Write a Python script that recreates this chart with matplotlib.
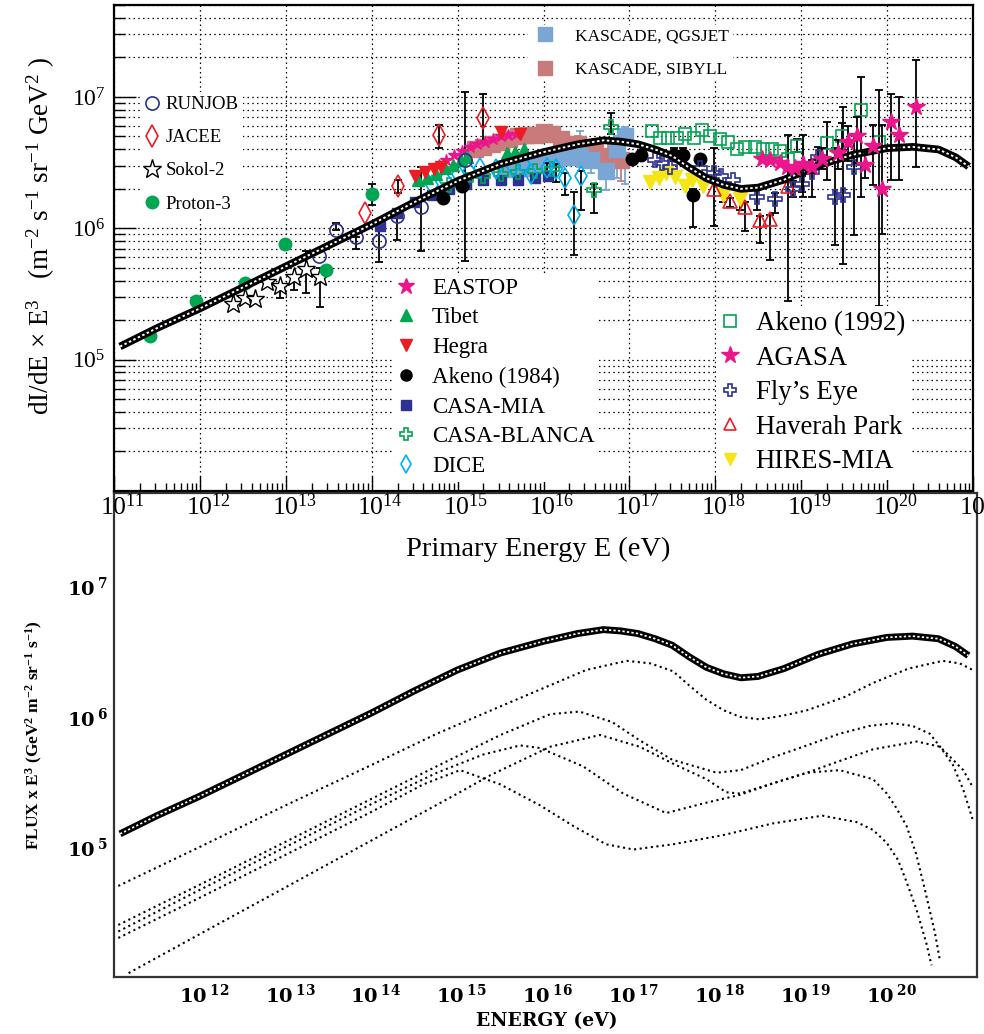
import numpy as np
import matplotlib
matplotlib.use("Agg")
import matplotlib.pyplot as plt
import matplotlib.transforms as mtransforms
from matplotlib.lines import Line2D
from matplotlib.ticker import FixedLocator, LogLocator, NullFormatter, NullLocator

plt.rcParams['font.family'] = ['Liberation Serif', 'DejaVu Serif']
plt.rcParams['mathtext.fontset'] = 'custom'
plt.rcParams['mathtext.rm'] = 'Liberation Serif'
plt.rcParams['mathtext.it'] = 'Liberation Serif:italic'
plt.rcParams['mathtext.bf'] = 'Liberation Serif:bold'
plt.rcParams['mathtext.default'] = 'regular'

# all values are log10(E / eV) and log10(dI/dE * E^3)

# model: total flux and its five components
total_loge = [11.07, 11.5, 12.0, 12.5, 13.0, 13.5, 14.0, 14.5, 15.0, 15.5, 16.0, 16.4, 16.7,
              16.9, 17.1, 17.3, 17.5, 17.7, 17.9, 18.1, 18.3, 18.5, 18.8, 19.2, 19.6, 20.0,
              20.3, 20.6, 20.8, 20.95]
total_logf = [5.10, 5.24, 5.39, 5.55, 5.71, 5.87, 6.03, 6.20, 6.36, 6.49, 6.58, 6.64, 6.67,
              6.66, 6.64, 6.60, 6.55, 6.46, 6.38, 6.33, 6.30, 6.31, 6.37, 6.48, 6.56, 6.61,
              6.62, 6.60, 6.54, 6.47]

comp1_loge = [11.05, 12.0, 13.0, 14.0, 14.76, 15.5, 16.0, 16.5, 16.97, 17.25, 17.51, 17.7, 17.9,
              18.1, 18.29, 18.52, 18.8, 19.07, 19.5, 19.84, 20.25, 20.65, 20.85, 21.0]
comp1_logf = [4.70, 5.00, 5.32, 5.63, 5.87, 6.08, 6.22, 6.36, 6.43, 6.41, 6.35, 6.24, 6.13,
              6.05, 6.00, 5.98, 6.01, 6.05, 6.15, 6.26, 6.37, 6.43, 6.41, 6.36]

comp2_loge = [11.05, 12.0, 13.0, 14.0, 14.76, 15.5, 16.08, 16.42, 16.8, 17.12, 17.5, 18.02, 18.3,
              18.68, 19.07, 19.45, 19.8, 20.07, 20.3, 20.5, 20.62, 20.77, 20.89, 21.0]
comp2_logf = [4.40, 4.71, 5.04, 5.37, 5.62, 5.86, 6.02, 6.04, 5.96, 5.82, 5.67, 5.57, 5.59,
              5.69, 5.78, 5.87, 5.93, 5.95, 5.93, 5.87, 5.77, 5.63, 5.44, 5.21]

comp3_loge = [11.05, 12.0, 13.0, 14.0, 14.76, 15.3, 15.73, 15.96, 16.46, 16.93, 17.43, 17.9,
              18.29, 18.68, 19.07, 19.45, 19.84, 20.0, 20.11, 20.23, 20.34, 20.44, 20.56, 20.62]
comp3_logf = [4.35, 4.67, 5.00, 5.33, 5.57, 5.71, 5.78, 5.76, 5.62, 5.41, 5.26, 5.34,
              5.40, 5.49, 5.57, 5.59, 5.52, 5.41, 5.30, 5.16, 4.95, 4.68, 4.34, 4.12]

comp4_loge = [11.17, 12.0, 13.0, 14.0, 15.0, 15.38, 16.08, 16.66, 17.12, 17.51, 17.9, 18.13,
              18.29, 18.68, 19.07, 19.45, 19.84, 20.35, 20.62, 20.77, 20.89, 21.0]
comp4_logf = [4.03, 4.33, 4.69, 5.05, 5.41, 5.55, 5.77, 5.86, 5.77, 5.64, 5.52, 5.42,
              5.41, 5.49, 5.57, 5.66, 5.75, 5.81, 5.77, 5.67, 5.59, 5.46]

comp5_loge = [11.05, 12.0, 13.0, 14.0, 14.6, 15.03, 15.5, 15.96, 16.35, 16.73, 17.05, 17.51,
              18.09, 18.67, 19.25, 19.65, 19.84, 20.0, 20.13, 20.23, 20.34, 20.46, 20.52]
comp5_logf = [4.30, 4.61, 4.94, 5.27, 5.48, 5.59, 5.48, 5.32, 5.16, 5.02, 4.98, 5.02,
              5.09, 5.18, 5.24, 5.19, 5.13, 5.03, 4.90, 4.73, 4.53, 4.26, 4.09]

# measurements (lo / hi = error bar length in dex)
runjob_loge = [13.39, 13.59, 13.82, 14.08, 14.30, 14.57, 15.09]
runjob_logf = [5.79, 5.99, 5.93, 5.90, 6.09, 6.16, 6.52]
runjob_lo = [0, 0, 0.09, 0.16, 0.18, 0.33, 0.77]
runjob_hi = [0, 0.05, 0, 0.11, 0, 0.31, 0.52]

jacee_loge = [13.92, 14.31, 14.78, 15.29]
jacee_logf = [6.12, 6.32, 6.71, 6.84]
jacee_lo = [0, 0.05, 0.10, 0.19]
jacee_hi = [0, 0.05, 0.08, 0.18]

sokol_loge = [12.39, 12.52, 12.64, 12.78, 12.93, 13.09, 13.24, 13.40]
sokol_logf = [5.42, 5.47, 5.46, 5.59, 5.56, 5.63, 5.69, 5.63]
sokol_lo = [0, 0, 0, 0, 0.09, 0.10, 0.18, 0.23]
sokol_hi = [0, 0, 0, 0, 0, 0, 0.14, 0.07]

proton3_loge = [11.42, 11.96, 12.53, 12.99, 13.47, 14.00]
proton3_logf = [5.18, 5.45, 5.58, 5.88, 5.68, 6.26]
proton3_lo = [0, 0, 0, 0, 0, 0.08]
proton3_hi = [0, 0, 0, 0, 0, 0.08]

eastop_loge = [14.78, 14.87, 14.96, 15.05, 15.14, 15.23, 15.32, 15.41, 15.50, 15.59, 15.68]
eastop_logf = [6.48, 6.52, 6.56, 6.59, 6.62, 6.64, 6.66, 6.68, 6.70, 6.71, 6.72]

tibet_loge = [14.54, 14.64, 14.75, 14.85, 14.95, 15.04, 15.11, 15.57, 15.67, 15.77]
tibet_logf = [6.37, 6.38, 6.41, 6.46, 6.48, 6.52, 6.54, 6.57, 6.58, 6.60]

hegra_loge = [14.50, 14.62, 14.72, 14.81, 15.51, 15.73]
hegra_logf = [6.40, 6.43, 6.45, 6.47, 6.73, 6.72]

akeno84_loge = [14.83, 15.05, 17.03, 17.13, 17.52, 17.62, 17.82, 17.74]
akeno84_logf = [6.23, 6.32, 6.53, 6.56, 6.56, 6.56, 6.53, 6.25]
akeno84_lo = [0, 0, 0, 0, 0.05, 0.05, 0, 0.24]
akeno84_hi = [0, 0, 0, 0, 0.05, 0.05, 0, 0.05]

casamia_loge = [14.1, 14.3, 14.5, 14.7, 14.9, 15.1, 15.3, 15.5, 15.7, 15.9, 16.05]
casamia_logf = [6.02, 6.12, 6.20, 6.25, 6.30, 6.34, 6.37, 6.37, 6.37, 6.38, 6.40]

casab_loge = [14.9, 15.1, 15.3, 15.5, 15.7, 15.9, 16.1, 16.59, 16.78]
casab_logf = [6.33, 6.37, 6.40, 6.41, 6.43, 6.44, 6.45, 6.29, 6.77]
casab_lo = [0, 0, 0, 0, 0, 0, 0, 0.17, 0.05]
casab_hi = [0, 0, 0, 0, 0, 0, 0, 0.05, 0.11]

dice_loge = [14.70, 14.85, 15.00, 15.13, 15.26, 15.45, 15.65, 15.77, 15.86, 16.04, 16.15,
             16.25, 16.35, 16.44]
dice_logf = [6.33, 6.37, 6.41, 6.44, 6.46, 6.45, 6.47, 6.49, 6.41, 6.46, 6.45,
             6.38, 6.10, 6.40]
dice_lo = [0, 0, 0, 0, 0, 0, 0, 0, 0, 0.05, 0.10, 0.13, 0.30, 0.26]
dice_hi = [0, 0, 0, 0, 0, 0, 0, 0, 0, 0.04, 0.04, 0.04, 0.18, 0.04]

kq_loge = [15.55, 15.75, 15.95, 16.05, 16.15, 16.25, 16.35, 16.43, 16.55, 16.73, 16.85, 16.95]
kq_logf = [6.45, 6.46, 6.48, 6.52, 6.53, 6.54, 6.54, 6.55, 6.52, 6.44, 6.60, 6.70]
kq_lo = [0, 0, 0, 0, 0, 0, 0.05, 0.08, 0.10, 0.15, 0.22, 0.36]
kq_hi = [0, 0, 0, 0, 0, 0, 0.10, 0.19, 0.10, 0.05, 0.10, 0.07]

ks_loge = [15.2, 15.3, 15.4, 15.5, 15.6, 15.7, 15.8, 15.9, 16.0, 16.1, 16.2, 16.4, 16.6,
           16.75, 16.9]
ks_logf = [6.60, 6.62, 6.64, 6.66, 6.68, 6.70, 6.71, 6.71, 6.73, 6.72, 6.68, 6.64, 6.60,
           6.55, 6.52]
ks_lo = [0, 0, 0, 0, 0, 0, 0, 0, 0, 0, 0, 0.06, 0.10, 0.14, 0.16]
ks_hi = [0, 0, 0, 0, 0, 0, 0, 0, 0, 0, 0, 0.06, 0.08, 0.10, 0.12]

akeno92_loge = [17.26, 17.36, 17.45, 17.55, 17.65, 17.75, 17.84, 17.94, 18.05, 18.15, 18.25,
                18.35, 18.46, 18.56, 18.66, 18.75, 18.85, 18.95, 19.30, 19.48, 19.70, 19.90]
akeno92_logf = [6.74, 6.69, 6.69, 6.69, 6.72, 6.69, 6.75, 6.70, 6.68, 6.66, 6.60,
                6.62, 6.62, 6.60, 6.60, 6.59, 6.53, 6.63, 6.65, 6.70, 6.90, 6.66]
akeno92_lo = [0, 0, 0, 0, 0, 0, 0, 0, 0, 0, 0, 0, 0, 0, 0, 0, 0, 0.05, 0.28, 0.10, 0.66, 1.25]
akeno92_hi = [0, 0, 0, 0, 0, 0, 0, 0, 0, 0, 0, 0, 0, 0, 0, 0, 0, 0.05, 0.16, 0.10, 0.25, 0.39]

agasa_loge = [18.54, 18.64, 18.75, 18.83, 18.93, 19.02, 19.12, 19.24, 19.43, 19.55, 19.65,
              19.74, 19.84, 19.94, 20.04, 20.14, 20.34]
agasa_logf = [6.53, 6.52, 6.50, 6.47, 6.46, 6.49, 6.47, 6.53, 6.57, 6.66, 6.70,
              6.48, 6.63, 6.30, 6.81, 6.71, 6.92]
agasa_lo = [0, 0, 0, 0, 0, 0.25, 0.05, 0.08, 0.12, 0.15, 0.20, 0.10, 0.30, 0.34, 0.44, 0.34, 0.45]
agasa_hi = [0, 0, 0, 0, 0, 0.22, 0.05, 0.08, 0.10, 0.12, 0.15, 0.10, 0.16, 0.49, 0.21, 0.29, 0.36]

flys_loge = [17.30, 17.38, 17.47, 17.82, 17.98, 18.07, 18.21, 18.48, 18.69, 18.91, 19.01,
             19.12, 19.20, 19.39, 19.49, 19.61]
flys_logf = [6.52, 6.50, 6.47, 6.46, 6.42, 6.40, 6.37, 6.24, 6.22, 6.30, 6.34,
             6.43, 6.54, 6.24, 6.25, 6.47]
flys_lo = [0, 0, 0, 0, 0.40, 0, 0, 0.10, 0.10, 0.06, 0.06, 0.19, 0.08, 0.37, 0.52, 0.52]
flys_hi = [0, 0, 0, 0, 0.19, 0, 0, 0.05, 0.05, 0.06, 0.06, 0.05, 0.08, 0.37, 0.67, 0.24]

haverah_loge = [17.98, 18.17, 18.35, 18.52, 18.64, 18.85]
haverah_logf = [6.30, 6.21, 6.16, 6.06, 6.07, 6.32]
haverah_lo = [0, 0.05, 0.18, 0.17, 0.31, 0.87]
haverah_hi = [0, 0.02, 0.04, 0.03, 0.03, 0.39]

hires_loge = [17.24, 17.34, 17.43, 17.53, 17.65, 17.73, 17.86, 18.09, 18.29]
hires_logf = [6.35, 6.38, 6.42, 6.39, 6.32, 6.37, 6.32, 6.25, 6.22]
hires_lo = [0, 0, 0, 0, 0, 0, 0, 0.05, 0.08]
hires_hi = [0, 0, 0, 0, 0, 0, 0, 0.02, 0.02]

NAVY, RED, GREEN = '#2e3192', '#ed1c24', '#00a651'
MAGENTA, CYAN, YELLOW = '#ec168c', '#00aeef', '#f5e514'
LBLUE, ROSE = '#7aa6d6', '#c97a7a'

fig = plt.figure(figsize=(9.84, 10.34), dpi=100)
ax2 = fig.add_axes([114 / 984, 1 - 977 / 1034, 863 / 984, 484 / 1034])
ax = fig.add_axes([114 / 984, 1 - 491 / 1034, 859 / 984, 486 / 1034])


def points(a, loge, logf, lo=None, hi=None, ecolor='black', z=3, **style):
    e = 10.0 ** np.asarray(loge)
    f = 10.0 ** np.asarray(logf)
    if lo is not None:
        lo, hi = np.asarray(lo), np.asarray(hi)
        m = (lo > 0) | (hi > 0)
        a.errorbar(e[m], f[m], yerr=[f[m] - f[m] * 10.0 ** -lo[m], f[m] * 10.0 ** hi[m] - f[m]],
                   fmt='none', ecolor=ecolor, elinewidth=1.3, capsize=3, capthick=1.3, zorder=z)
    a.plot(e, f, ls='none', zorder=z + 0.5, **style)


def chain(a, lw):
    e, f = 10.0 ** np.asarray(total_loge), 10.0 ** np.asarray(total_logf)
    a.plot(e, f, color='black', lw=lw, solid_capstyle='butt', zorder=6)
    a.plot(e, f, color='white', lw=lw * 0.25, ls=(0, (1.3, 1.3)), zorder=6.1)


# ---------------- top panel: data ----------------
S = {
    'runjob': dict(marker='o', ms=9.5, mfc='none', mec=NAVY, mew=1.2),
    'jacee': dict(marker='d', ms=11, mfc='none', mec=RED, mew=1.2),
    'sokol': dict(marker='*', ms=14, mfc='white', mec='black', mew=1.0),
    'proton3': dict(marker='o', ms=9, mfc=GREEN, mec=GREEN),
    'eastop': dict(marker='*', ms=9, mfc=MAGENTA, mec=MAGENTA),
    'tibet': dict(marker='^', ms=9, mfc=GREEN, mec=GREEN),
    'hegra': dict(marker='v', ms=9, mfc=RED, mec=RED),
    'akeno84': dict(marker='o', ms=9, mfc='black', mec='black'),
    'casamia': dict(marker='s', ms=7, mfc=NAVY, mec=NAVY),
    'casab': dict(marker='P', ms=10, mfc='none', mec=GREEN, mew=1.2),
    'dice': dict(marker='d', ms=10, mfc='none', mec=CYAN, mew=1.2),
    'kq': dict(marker='s', ms=11, mfc=LBLUE, mec=LBLUE),
    'ks': dict(marker='s', ms=11, mfc=ROSE, mec=ROSE),
    'akeno92': dict(marker='s', ms=9, mfc='none', mec=GREEN, mew=1.2),
    'agasa': dict(marker='*', ms=13, mfc=MAGENTA, mec=MAGENTA),
    'flys': dict(marker='P', ms=10, mfc='none', mec=NAVY, mew=1.2),
    'haverah': dict(marker='^', ms=10, mfc='none', mec=RED, mew=1.2),
    'hires': dict(marker='v', ms=10, mfc=YELLOW, mec=YELLOW),
}

points(ax, ks_loge, ks_logf, ks_lo, ks_hi, ecolor=ROSE, z=2, **S['ks'])
points(ax, kq_loge, kq_logf, kq_lo, kq_hi, ecolor=LBLUE, z=2.2, **S['kq'])
points(ax, casamia_loge, casamia_logf, **S['casamia'])
points(ax, casab_loge, casab_logf, casab_lo, casab_hi, **S['casab'])
points(ax, dice_loge, dice_logf, dice_lo, dice_hi, **S['dice'])
points(ax, eastop_loge, eastop_logf, **S['eastop'])
points(ax, tibet_loge, tibet_logf, **S['tibet'])
points(ax, hegra_loge, hegra_logf, **S['hegra'])
points(ax, akeno84_loge, akeno84_logf, akeno84_lo, akeno84_hi, **S['akeno84'])
points(ax, runjob_loge, runjob_logf, runjob_lo, runjob_hi, **S['runjob'])
points(ax, jacee_loge, jacee_logf, jacee_lo, jacee_hi, **S['jacee'])
points(ax, sokol_loge, sokol_logf, sokol_lo, sokol_hi, **S['sokol'])
points(ax, proton3_loge, proton3_logf, proton3_lo, proton3_hi, **S['proton3'])
points(ax, akeno92_loge, akeno92_logf, akeno92_lo, akeno92_hi, **S['akeno92'])
points(ax, hires_loge, hires_logf, hires_lo, hires_hi, **S['hires'])
points(ax, haverah_loge, haverah_logf, haverah_lo, haverah_hi, **S['haverah'])
points(ax, flys_loge, flys_logf, flys_lo, flys_hi, **S['flys'])
chain(ax, 5.5)
points(ax, agasa_loge, agasa_logf, agasa_lo, agasa_hi, z=7, **S['agasa'])

ax.set_xscale('log')
ax.set_yscale('log')
ax.set_xlim(1e11, 1e21)
ax.set_ylim(1e4, 10 ** 7.70)
ax.xaxis.set_major_locator(FixedLocator(10.0 ** np.arange(11, 22)))
ax.xaxis.set_minor_locator(LogLocator(base=10, subs=np.arange(2, 10), numticks=100))
ax.xaxis.set_minor_formatter(NullFormatter())
ax.set_xticklabels(['$10^{%d}$' % k for k in range(11, 22)], fontsize=18.5)
ax.yaxis.set_major_locator(FixedLocator([1e5, 1e6, 1e7]))
ax.yaxis.set_minor_locator(LogLocator(base=10, subs=np.arange(2, 10), numticks=100))
ax.yaxis.set_minor_formatter(NullFormatter())
ax.set_yticklabels(['$10^{5}$', '$10^{6}$', '$10^{7}$'], fontsize=17)
ax.tick_params(which='both', direction='in', top=False, right=False, width=1.0)
ax.tick_params(axis='x', which='major', length=11, pad=2)
ax.tick_params(axis='x', which='minor', length=6)
ax.tick_params(axis='y', which='major', length=16, pad=6)
ax.tick_params(axis='y', which='minor', length=8)
gl = dict(color='black', lw=0.9, ls=(0, (1.2, 2.6)))
ax.grid(True, axis='x', which='major', **gl)
ax.grid(True, axis='y', which='both', **gl)
ax.set_axisbelow(True)
for sp in ax.spines.values():
    sp.set_linewidth(1.6)
off = mtransforms.ScaledTranslation(6 / 72, 0, fig.dpi_scale_trans)
for lab in ax.get_xticklabels():
    lab.set_transform(lab.get_transform() + off)

ax.set_xlabel('Primary Energy E (eV)', fontsize=20.5)
ax.xaxis.set_label_coords(0.494, -0.095)
ax.set_ylabel('dI/dE × E$^{3}$   (m$^{-2}$ s$^{-1}$ sr$^{-1}$ GeV$^{2}$ )', fontsize=19.5)
ax.yaxis.set_label_coords(-0.066, 0.525)


def legend(keys, labels, fs, anchor, ls, hl, htp, ms=None):
    hs = []
    for k in keys:
        st = dict(S[k])
        if ms is not None:
            st['ms'] = ms.get(k, st['ms'])
        hs.append(Line2D([], [], ls='none', **st))
    leg = ax.legend(hs, labels, loc='upper left', bbox_to_anchor=anchor, fontsize=fs,
                    frameon=True, facecolor='white', edgecolor='none', framealpha=1,
                    fancybox=False, borderpad=0.2, borderaxespad=0, labelspacing=ls,
                    handlelength=hl, handletextpad=htp)
    leg.set_zorder(8)
    ax.add_artist(leg)


legend(['runjob', 'jacee', 'sokol', 'proton3'], ['RUNJOB', 'JACEE', 'Sokol-2', 'Proton-3'],
       13.5, (0.031, 0.820), 0.85, 0.8, 0.35)
legend(['kq', 'ks'], ['KASCADE, QGSJET', 'KASCADE, SIBYLL'],
       12.5, (0.4825, 0.959), 0.99, 1.5, 1.0, ms={'kq': 9.5, 'ks': 9.5})
legend(['eastop', 'tibet', 'hegra', 'akeno84', 'casamia', 'casab', 'dice'],
       ['EASTOP', 'Tibet', 'Hegra', 'Akeno (1984)', 'CASA-MIA', 'CASA-BLANCA', 'DICE'],
       16.5, (0.3236, 0.4486), 0.378, 0.8, 0.75,
       ms={'eastop': 12, 'tibet': 8, 'hegra': 8, 'akeno84': 8, 'casamia': 7, 'casab': 9, 'dice': 9})
legend(['akeno92', 'agasa', 'flys', 'haverah', 'hires'],
       ['Akeno (1992)', 'AGASA', 'Fly’s Eye', 'Haverah Park', 'HIRES-MIA'],
       19.3, (0.701, 0.381), 0.355, 0.6, 0.67,
       ms={'akeno92': 8.5, 'agasa': 13, 'flys': 9, 'haverah': 9, 'hires': 9})

# ---------------- bottom panel: model components ----------------
for lx, ly in [(comp1_loge, comp1_logf), (comp2_loge, comp2_logf), (comp3_loge, comp3_logf),
               (comp4_loge, comp4_logf), (comp5_loge, comp5_logf)]:
    ax2.plot(10.0 ** np.asarray(lx), 10.0 ** np.asarray(ly), color='black', lw=1.5,
             ls=(0, (1, 1.7)))
chain(ax2, 5.0)

ax2.set_xscale('log')
ax2.set_yscale('log')
ax2.set_xlim(1e11, 10 ** 21.05)
ax2.set_ylim(1e4, 10 ** 7.72)
ax2.xaxis.set_major_locator(FixedLocator(10.0 ** np.arange(12, 21)))
ax2.xaxis.set_minor_locator(NullLocator())
ax2.yaxis.set_major_locator(FixedLocator([1e5, 1e6, 1e7]))
ax2.yaxis.set_minor_locator(NullLocator())
bold = dict(family='DejaVu Serif', weight='bold', size=14)
ax2.set_xticklabels(['$10^{\\ %d}$' % k for k in range(12, 21)], fontdict=bold)
ax2.set_yticklabels(['$10^{\\ %d}$' % k for k in (5, 6, 7)], fontdict=bold)
ax2.tick_params(which='both', length=0)
ax2.tick_params(axis='x', pad=5)
ax2.tick_params(axis='y', pad=4)
for sp in ax2.spines.values():
    sp.set_linewidth(1.6)
    sp.set_color('#333333')
off2 = mtransforms.ScaledTranslation(3 / 72, 0, fig.dpi_scale_trans)
for lab in ax2.get_xticklabels():
    lab.set_transform(lab.get_transform() + off2)
ax2.set_xlabel('ENERGY (eV)', family='DejaVu Serif', weight='bold', fontsize=13.5)
ax2.xaxis.set_label_coords(0.502, -0.072)
ax2.set_ylabel('FLUX x E$^{3}$ (GeV$^{2}$ m$^{-2}$ sr$^{-1}$ s$^{-1}$)', weight='bold', fontsize=12.5)
ax2.yaxis.set_label_coords(-0.080, 0.50)

fig.savefig('out.png', dpi=100)
